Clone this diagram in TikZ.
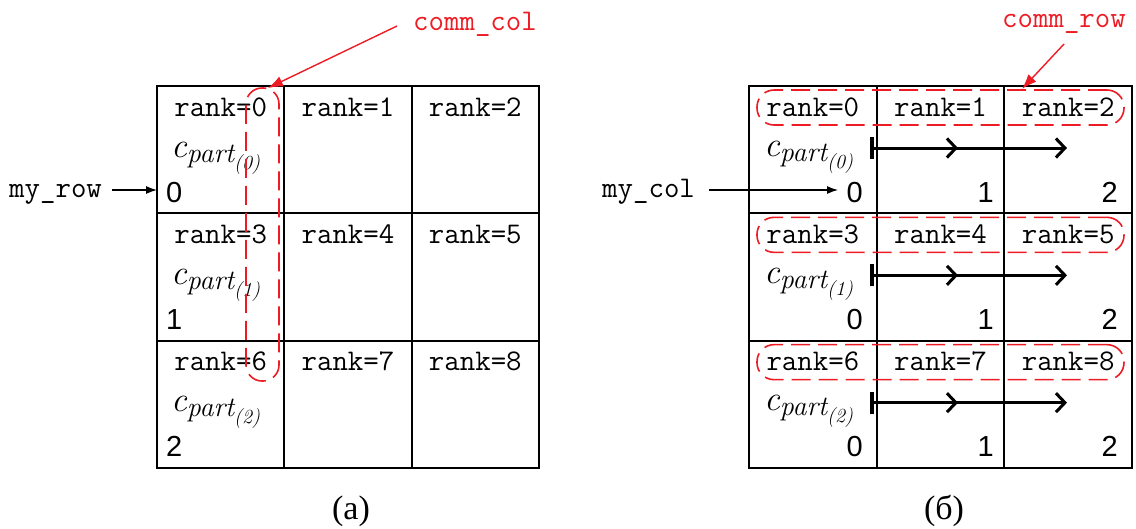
\documentclass[tikz,border=0pt]{standalone}
\usepackage{fontspec}
\usetikzlibrary{arrows.meta}
\newfontfamily\digitfont{Liberation Sans}
\newfontfamily\capfont{Liberation Serif}
\definecolor{annot}{RGB}{237,28,36}

% c with a two-level subscript part_(k), set in italic
\newcommand{\cpart}[1]{{\itshape\fontsize{35}{36}\selectfont c}\raisebox{-5pt}{\itshape\fontsize{28}{30}\selectfont part\raisebox{-7pt}{\fontsize{20}{22}\selectfont (#1)}}}

\tikzset{
  cell/.style={draw, line width=2pt, minimum width=#1, minimum height=127.33pt, inner sep=0pt, outer sep=0pt},
  ranklbl/.style={font=\ttfamily\fontsize{30}{32}\selectfont, anchor=base, inner sep=0pt},
  idx/.style={font=\digitfont\fontsize{29}{31}\selectfont, inner sep=0pt},
  cterm/.style={anchor=base west, inner sep=0pt},
  group/.style={draw=annot, line width=1.6pt, dash pattern=on 19pt off 8pt, inner sep=0pt, outer sep=0pt},
  note/.style={text=annot, font=\ttfamily\fontsize{30}{32}\selectfont, anchor=base west, inner sep=0pt},
  plain/.style={font=\ttfamily\fontsize{30}{32}\selectfont, anchor=base west, inner sep=0pt},
  pointer/.style={draw=annot, line width=1.4pt, -{Latex[length=15pt,width=11pt]}},
  marker/.style={line width=1.2pt, -{Latex[length=11pt,width=8pt]}},
  flow/.style={line width=3pt, -{Straight Barb[length=9pt,width=19pt]}},
  caption/.style={font=\capfont\fontsize{34}{36}\selectfont, anchor=base, inner sep=0pt}
}

\begin{document}
\begin{tikzpicture}[x=1pt,y=-1pt]
\useasboundingbox (0,0) rectangle (1136,528);

% ---------- left grid: column communicator ----------
\foreach \r in {0,1,2}{
  \foreach \c in {0,1,2}{
    \pgfmathtruncatemacro\n{3*\r+\c}
    \node[cell=127.33pt] (L\r\c) at ({157+127.33*(\c+0.5)},{86+127.33*(\r+0.5)}) {};
    \node[ranklbl] (Lr\r\c) at ({157+127.33*(\c+0.5)},{86+127.33*\r+30}) {rank=\n};
  }
  \node[cterm] (Lc\r) at (171,{86+127.33*\r+71}) {\cpart{\r}};
  \node[idx, anchor=base west] (Li\r) at (166,{86+127.33*\r+116}) {\r};
}

\node[group, rounded corners=16pt, minimum width=33pt, minimum height=293pt] (colgrp) at (262.5,234.5) {};

\node[note] (ccol) at (413,30) {comm\_col};
\coordinate (ccolfrom) at (397,26);
\coordinate (ccolto) at (268,88);
\draw[pointer] (ccolfrom) -- (ccolto);

\node[plain] (myrow) at (9,197) {my\_row};
\coordinate (myrowfrom) at (112,190);
\coordinate (myrowto) at (157,190);
\draw[marker] (myrowfrom) -- (myrowto);

\node[caption] (capa) at (351,519) {(a)};

% ---------- right grid: row communicator ----------
\foreach \r in {0,1,2}{
  \foreach \c in {0,1,2}{
    \pgfmathtruncatemacro\n{3*\r+\c}
    \node[cell=127.67pt] (R\r\c) at ({749+127.67*(\c+0.5)},{86+127.33*(\r+0.5)}) {};
    \node[ranklbl] (Rr\r\c) at ({749+127.67*(\c+0.5)},{86+127.33*\r+30}) {rank=\n};
  }
  \node[group, rounded corners=17pt, minimum width=367pt, minimum height=35pt] (rowgrp\r) at (940.5,{86+127.33*\r+21.5}) {};
  \node[cterm] (Rc\r) at (764,{86+127.33*\r+70}) {\cpart{\r}};
  \node[idx, anchor=base east] (Ri\r0) at (863,{86+127.33*\r+116}) {0};
  \node[idx, anchor=base east] (Ri\r1) at (994,{86+127.33*\r+116}) {1};
  \node[idx, anchor=base east] (Ri\r2) at (1118,{86+127.33*\r+116}) {2};
  \coordinate (Rs\r) at (870,{86+127.33*\r+62});
  \coordinate (Rm\r) at (958,{86+127.33*\r+62});
  \coordinate (Re\r) at (1067,{86+127.33*\r+62});
  \draw[flow, {Bar[width=22pt,line width=3.5pt]}-{Straight Barb[length=9pt,width=19pt]}] (Rs\r) -- (Re\r);
  \draw[flow] (Rs\r) -- (Rm\r);
}

\node[note] (crow) at (1002,27) {comm\_row};
\coordinate (crowfrom) at (1064,44);
\coordinate (crowto) at (1022,89);
\draw[pointer] (crowfrom) -- (crowto);

\node[plain] (mycol) at (602,197) {my\_col};
\coordinate (mycolfrom) at (709,190);
\coordinate (mycolto) at (838,190);
\draw[marker] (mycolfrom) -- (mycolto);

\node[caption] (capb) at (944,519) {(б)};
\end{tikzpicture}
\end{document}
